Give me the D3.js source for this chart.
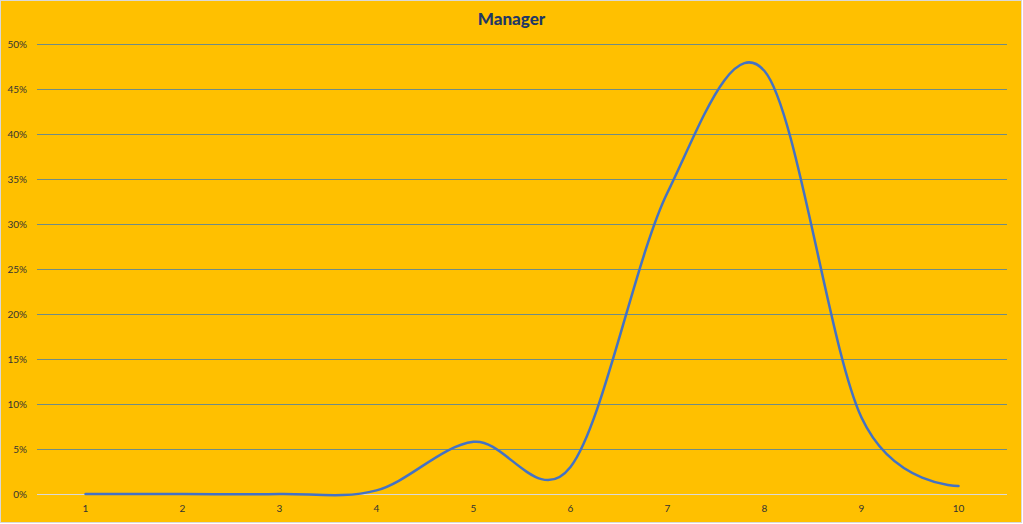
<!DOCTYPE html>
<html>
<head>
<meta charset="utf-8">
<script src="https://cdn.jsdelivr.net/npm/d3@7"></script>
<style>
  html, body { margin: 0; padding: 0; background: #fff; }
  #chart { width: 1023px; height: 524px; }
  text { font-family: Lato, "Open Sans", sans-serif; }
</style>
</head>
<body>
<div id="chart"></div>
<script>
// chart data
const categories = ['1', '2', '3', '4', '5', '6', '7', '8', '9', '10'];
const values = [0, 0, 0, 0.004, 0.058, 0.03, 0.335, 0.47, 0.085, 0.009];
const yTicks = [0, 0.05, 0.10, 0.15, 0.20, 0.25, 0.30, 0.35, 0.40, 0.45, 0.50];
const title = 'Manager';

const width = 1023;
const height = 524;
// plot area inside the chart
const margin = {top: 44, right: 16, bottom: 30, left: 37};
const cWidth = width - margin.left - margin.right;
const cHeight = height - margin.top - margin.bottom;

let svg = d3.select('#chart').append('svg')
    .attr('width', width)
    .attr('height', height);

// background and frame
svg.append('rect')
    .attr('x', 0.5).attr('y', 0.5)
    .attr('width', width - 2).attr('height', height - 2)
    .attr('fill', '#FFC000')
    .attr('stroke', '#D9D9D9');

svg.append('text')
    .attr('x', width / 2)
    .attr('y', 25)
    .attr('text-anchor', 'middle')
    .attr('font-size', 17)
    .attr('font-weight', 900)
    .attr('fill', '#1F3864')
    .text(title);

let g = svg.append('g').attr('transform', `translate(${margin.left},${margin.top})`);

let x = d3.scaleBand()
    .domain(categories)
    .range([0, cWidth]);

let y = d3.scaleLinear()
    .domain([0, 0.5])
    .range([cHeight, 0]);

// gridlines
g.append('g')
    .selectAll('line')
    .data(yTicks)
    .enter().append('line')
        .attr('x1', 0)
        .attr('x2', cWidth)
        .attr('y1', d => Math.round(y(d)) + 0.5)
        .attr('y2', d => Math.round(y(d)) + 0.5)
        .attr('stroke', d => d === 0 ? '#D9D9D9' : '#6F8C86')
        .attr('stroke-width', 1);

// y axis labels
g.append('g')
    .selectAll('text')
    .data(yTicks)
    .enter().append('text')
        .attr('x', -10)
        .attr('y', d => y(d))
        .attr('dy', '0.35em')
        .attr('text-anchor', 'end')
        .attr('font-size', 10)
        .attr('fill', '#333333')
        .text(d3.format('.0%'));

// x axis labels
g.append('g')
    .selectAll('text')
    .data(categories)
    .enter().append('text')
        .attr('x', d => x(d) + x.bandwidth() / 2)
        .attr('y', cHeight + 18)
        .attr('text-anchor', 'middle')
        .attr('font-size', 10)
        .attr('fill', '#333333')
        .text(d => d);

// smoothed line
let line = d3.line()
    .x((d, i) => x(categories[i]) + x.bandwidth() / 2)
    .y(d => y(d))
    .curve(d3.curveCardinal.tension(0));

g.append('path')
    .datum(values)
    .attr('d', line)
    .attr('fill', 'none')
    .attr('stroke', '#4472C4')
    .attr('stroke-width', 2.5)
    .attr('stroke-linecap', 'round');
</script>
</body>
</html>
